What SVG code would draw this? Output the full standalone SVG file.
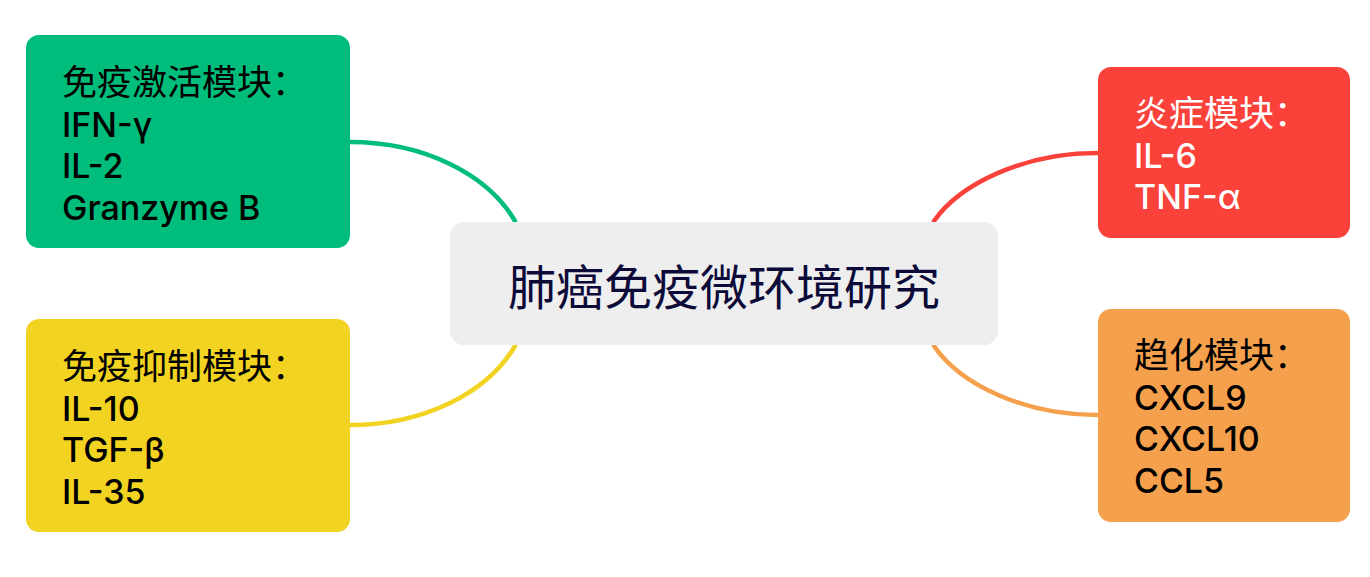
<svg xmlns="http://www.w3.org/2000/svg" width="1370" height="577" viewBox="0 0 1370 577">
<style>
.t{font-family:"Inter","Noto Sans CJK SC",sans-serif;font-size:34px;fill:#000}
.h{font-size:35px}
.l{font-weight:500}
.w{fill:#fff}
.c{font-family:"Inter","Noto Sans CJK SC",sans-serif;font-size:48px;fill:#0c0a38}
.ln{fill:none;stroke-width:4.5;stroke-linecap:round}
</style>
<rect width="1370" height="577" fill="#fff"/>
<g id="connectors">
<path class="ln" stroke="#00bd7b" d="M350,142 C425,142 488,175 515,221"/>
<path class="ln" stroke="#f2d321" d="M350,425 C425,425 488,392 515,346"/>
<path class="ln" stroke="#fa423b" d="M1098,153 C1023,153 960,184 934,221"/>
<path class="ln" stroke="#f5a04c" d="M1098,415 C1023,415 960,384 934,346"/>
</g>
<g id="center">
<rect x="450" y="222" width="548" height="123" rx="14" fill="#eeeeee"/>
<text class="c" x="724" y="305" text-anchor="middle">肺癌免疫微环境研究</text>
</g>
<g id="activation">
<rect x="26" y="35" width="324" height="213" rx="13" fill="#00bd7b"/>
<text class="t h" x="62" y="95">免疫激活模块：</text>
<text class="t l" x="62" y="136.5">IFN-γ</text>
<text class="t l" x="62" y="178">IL-2</text>
<text class="t l" x="62" y="219.5">Granzyme B</text>
</g>
<g id="suppression">
<rect x="26" y="319" width="324" height="213" rx="13" fill="#f2d321"/>
<text class="t h" x="62" y="379">免疫抑制模块：</text>
<text class="t l" x="62" y="420.5">IL-10</text>
<text class="t l" x="62" y="462">TGF-β</text>
<text class="t l" x="62" y="503.5">IL-35</text>
</g>
<g id="inflammation">
<rect x="1098" y="67" width="252" height="171" rx="13" fill="#fa423b"/>
<text class="t h w" x="1134" y="126">炎症模块：</text>
<text class="t w l" x="1134" y="167.5">IL-6</text>
<text class="t w l" x="1134" y="209">TNF-α</text>
</g>
<g id="chemotaxis">
<rect x="1098" y="309" width="252" height="213" rx="13" fill="#f5a04c"/>
<text class="t h" x="1134" y="368">趋化模块：</text>
<text class="t l" x="1134" y="409.5">CXCL9</text>
<text class="t l" x="1134" y="451">CXCL10</text>
<text class="t l" x="1134" y="492.5">CCL5</text>
</g>
</svg>
